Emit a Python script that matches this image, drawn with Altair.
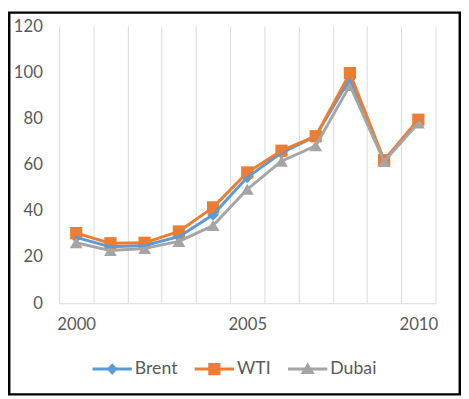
import altair as alt
import pandas as pd

# ---- data ----
years = list(range(2000, 2011))
series = ["Brent", "WTI", "Dubai"]
brent = [28.50, 24.44, 25.02, 28.83, 38.27, 54.52, 65.14, 72.39, 97.26, 61.67, 79.50]
wti = [30.38, 25.98, 26.18, 31.08, 41.51, 56.64, 66.05, 72.34, 99.67, 61.95, 79.48]
dubai = [26.20, 22.81, 23.74, 26.78, 33.64, 49.35, 61.50, 68.19, 94.34, 61.39, 78.06]
y_ticks = [0, 20, 40, 60, 80, 100, 120]
x_labels = [2000, 2005, 2010]

# ---- styles ----
colors = ["#5B9BD5", "#ED7D31", "#A5A5A5"]
shapes = ["diamond", "square", "triangle-up"]
marker_sizes = [140, 170, 215]
legend_paths = [
    "M-1,-0.075L1,-0.075L1,0.075L-1,0.075Z M0,-0.3L0.275,0L0,0.3L-0.275,0Z",
    "M-1,-0.075L1,-0.075L1,0.075L-1,0.075Z M-0.31,-0.31L0.31,-0.31L0.31,0.31L-0.31,0.31Z",
    "M-1,-0.075L1,-0.075L1,0.075L-1,0.075Z M0,-0.33L0.36,0.25L-0.36,0.25Z",
]
text_color = "#595959"
grid_color = "#D9D9D9"
FONT = "Lato"

values = {"Brent": brent, "WTI": wti, "Dubai": dubai}
rows = []
for s in series:
    for yr, v in zip(years, values[s]):
        rows.append({"year": yr, "series": s, "value": v})
df = pd.DataFrame(rows)

grid_values = [yr - 0.5 for yr in years] + [years[-1] + 0.5]

W, H = 383, 282
PAD = {"left": 52, "top": 15, "right": 26, "bottom": 94}

xscale = alt.Scale(domain=[years[0] - 0.5, years[-1] + 0.5], nice=False, zero=False)
yscale = alt.Scale(domain=[0, 120], nice=False)
cscale = alt.Scale(domain=series, range=colors)

base = alt.Chart(df)

lines = base.mark_line(strokeWidth=3, strokeJoin="round", strokeCap="round").encode(
    x=alt.X("year:Q", scale=xscale, axis=alt.Axis(
        values=x_labels, format="d", grid=False, ticks=False, tickSize=0,
        domain=True, domainColor=grid_color, domainWidth=1,
        labelFont=FONT, labelFontSize=17, labelColor=text_color,
        labelPadding=14, labelFlush=False, title=None)),
    y=alt.Y("value:Q", scale=yscale, axis=alt.Axis(
        values=y_ticks, grid=False, ticks=False, tickSize=0, domain=False,
        labelFont=FONT, labelFontSize=17, labelColor=text_color,
        labelPadding=17, title=None)),
    color=alt.Color("series:N", scale=cscale, legend=None),
)

points = base.mark_point(filled=True, opacity=1, strokeWidth=0).encode(
    x=alt.X("year:Q", scale=xscale, axis=alt.Axis(
        orient="top", values=grid_values, grid=True, gridColor=grid_color,
        gridWidth=1, labels=False, ticks=False, domain=False, title=None)),
    y=alt.Y("value:Q", scale=yscale, axis=None),
    color=alt.Color("series:N", scale=cscale, legend=None),
    shape=alt.Shape("series:N", scale=alt.Scale(domain=series, range=shapes), legend=None),
    size=alt.Size("series:N", scale=alt.Scale(domain=series, range=marker_sizes), legend=None),
)

legend_def = alt.Legend(
    orient="none", legendX=34, legendY=329, direction="horizontal", columns=3,
    title=None, symbolSize=1600, symbolStrokeWidth=0, symbolOpacity=1,
    labelFont=FONT, labelFontSize=18, labelColor=text_color, labelOffset=3,
    columnPadding=17, padding=0,
)

legend_layer = base.mark_point(filled=True, opacity=0).encode(
    x=alt.X("year:Q", scale=xscale, axis=None),
    y=alt.Y("value:Q", scale=yscale, axis=None),
    fill=alt.Fill("series:N", scale=alt.Scale(domain=series, range=colors), legend=legend_def),
    shape=alt.Shape("series:N", scale=alt.Scale(domain=series, range=legend_paths), legend=legend_def),
)

border = alt.Chart(pd.DataFrame({"b": [0]})).mark_rect(
    fillOpacity=0, stroke="black", strokeWidth=2.5
).encode(
    x=alt.value(-PAD["left"] + 1.25),
    x2=alt.value(W + PAD["right"] - 1.25),
    y=alt.value(-PAD["top"] + 1.25),
    y2=alt.value(H + PAD["bottom"] - 1.25),
)

chart = alt.layer(points, lines, legend_layer, border).resolve_scale(
    shape="independent", fill="independent"
).resolve_legend(
    shape="independent", fill="independent"
).resolve_axis(
    x="independent", y="independent"
).properties(
    width=W, height=H,
    autosize=alt.AutoSizeParams(type="none"),
    padding=PAD,
    background="white",
).configure_view(strokeWidth=0)

chart.save("out.html", embed_options={"renderer": "svg", "actions": False})
